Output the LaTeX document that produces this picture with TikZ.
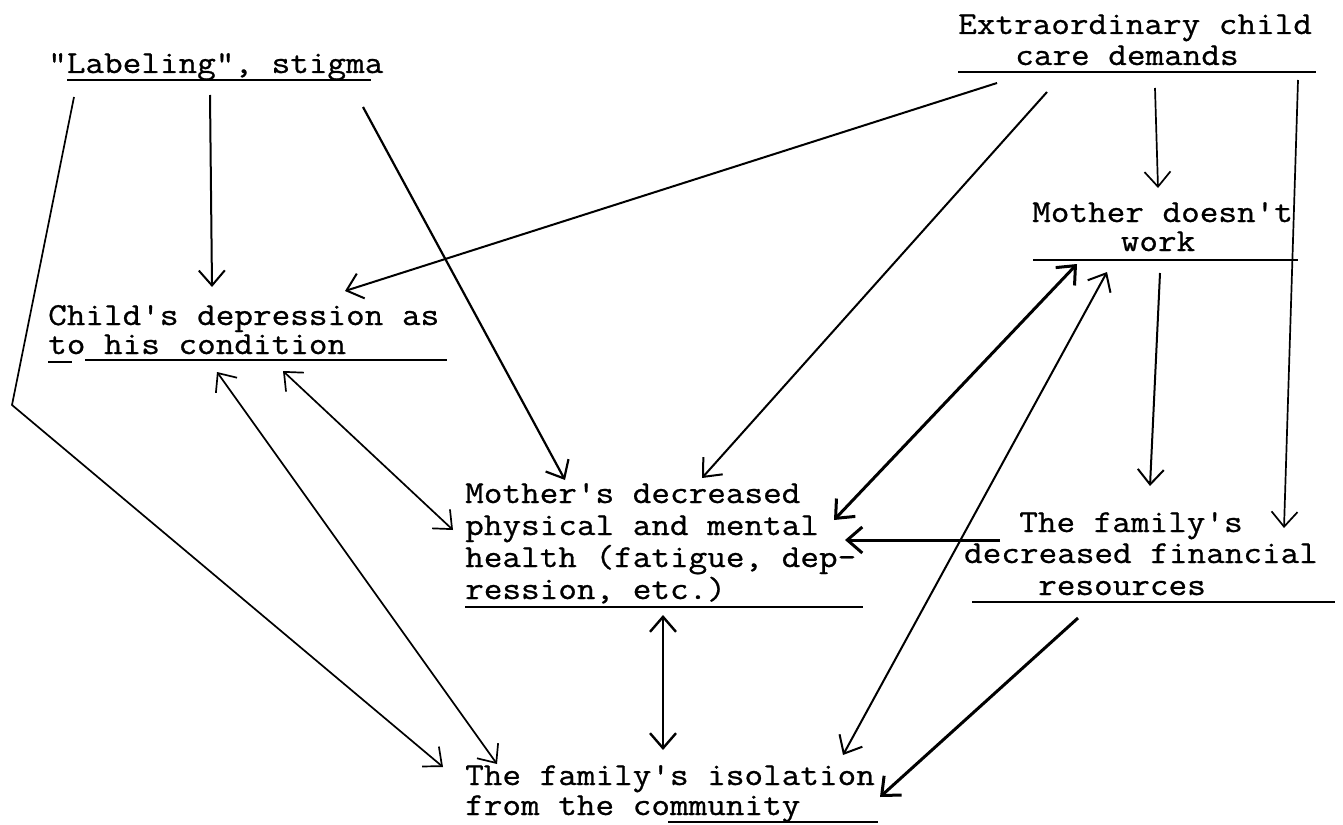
\documentclass[tikz,border=0pt]{standalone}
\usepackage{fontspec}
\newfontfamily\tw[FakeStretch=1.13,FakeBold=0.8]{Latin Modern Mono}
\usetikzlibrary{arrows.meta}
\begin{document}
\begin{tikzpicture}[x=1pt,y=-1pt,
  txt/.style={font=\tw\fontsize{32}{32}\selectfont, inner sep=0pt, anchor=base west, text height=19pt, text depth=4pt},
  txtc/.style={txt, anchor=base},
  ul/.style={line width=1.8pt},
  tip/.tip={Straight Barb[length=15pt,width=26pt]},
  con/.style={line width=1.7pt, -tip},
  dcon/.style={line width=1.7pt, tip-tip},
  thk/.style={line width=3pt}]
\useasboundingbox (0,0) rectangle (1343,824);

% text blocks
\node[txt] (lab) at (48,73) {"Labeling", stigma};
\draw[ul] (67,80) -- (371,80);

\node[txt] (ext1) at (958,34) {Extraordinary child};
\node[txt] (ext2) at (1015,65) {care demands};
\draw[ul] (958,72) -- (1316,72);

\node[txt] (mdw1) at (1032,222) {Mother doesn't};
\node[txtc] (mdw2) at (1158,251) {work};
\draw[ul] (1033,260) -- (1298,260);

\node[txt] (cd1) at (48,325) {Child's depression as};
\node[txt] (cd2) at (48,354) {to his condition};
\draw[ul] (48,362) -- (72,362);
\draw[ul] (85,360) -- (447,360);

\node[txt] (md1) at (465,503) {Mother's decreased};
\node[txt] (md2) at (465,535) {physical and mental};
\node[txt] (md3) at (465,567) {health (fatigue, dep-};
\node[txt] (md4) at (465,599) {ression, etc.)};
\draw[ul] (465,607) -- (863,607);

\node[txtc] (fin1) at (1131,532) {The family's};
\node[txtc] (fin2) at (1141,563) {decreased financial};
\node[txtc] (fin3) at (1122,595) {resources};
\draw[ul] (972,602) -- (1335,602);

\node[txt] (iso1) at (465,785) {The family's isolation};
\node[txt] (iso2) at (465,815) {from the community};
\draw[ul] (668,822) -- (878,822);

% connector end points
\coordinate (labA) at (210,95);   \coordinate (cdA) at (212,287);
\coordinate (labB) at (363,107);  \coordinate (mdB) at (565,480);
\coordinate (labC) at (74,97);    \coordinate (bendC) at (12,405); \coordinate (isoC) at (443,767);
\coordinate (extD) at (997,83);   \coordinate (cdD) at (345,291);
\coordinate (extE) at (1047,92);  \coordinate (mdE) at (702,478);
\coordinate (extF) at (1155,88);  \coordinate (mdwF) at (1158,188);
\coordinate (extG) at (1298,80);  \coordinate (finG) at (1284,528);
\coordinate (mdwH) at (1160,273); \coordinate (finH) at (1150,486);
\coordinate (mdwI) at (1077,264); \coordinate (mdI) at (834,520);
\coordinate (mdwJ) at (1107,272); \coordinate (isoJ) at (843,755);
\coordinate (finK) at (1000,540); \coordinate (mdK) at (845,540);
\coordinate (finL) at (1078,618); \coordinate (isoL) at (880,797);
\coordinate (cdM) at (283,371);   \coordinate (mdM) at (453,530);
\coordinate (cdN) at (217,372);   \coordinate (isoN) at (497,764);
\coordinate (mdO) at (663,615);   \coordinate (isoO) at (663,750);

% connectors
\draw[con,line width=2pt] (labA) -- (cdA);
\draw[con,line width=2.2pt] (labB) -- (mdB);
\draw[con] (labC) -- (bendC) -- (isoC);
\draw[con,line width=2pt] (extD) -- (cdD);
\draw[con,line width=2pt] (extE) -- (mdE);
\draw[con] (extF) -- (mdwF);
\draw[con] (extG) -- (finG);
\draw[con,line width=2pt] (mdwH) -- (finH);
\draw[dcon,thk] (mdwI) -- (mdI);
\draw[dcon,line width=2pt] (mdwJ) -- (isoJ);
\draw[con,thk] (finK) -- (mdK);
\draw[con,thk] (finL) -- (isoL);
\draw[dcon] (cdM) -- (mdM);
\draw[dcon] (cdN) -- (isoN);
\draw[dcon,line width=2.4pt] (mdO) -- (isoO);
\end{tikzpicture}
\end{document}
